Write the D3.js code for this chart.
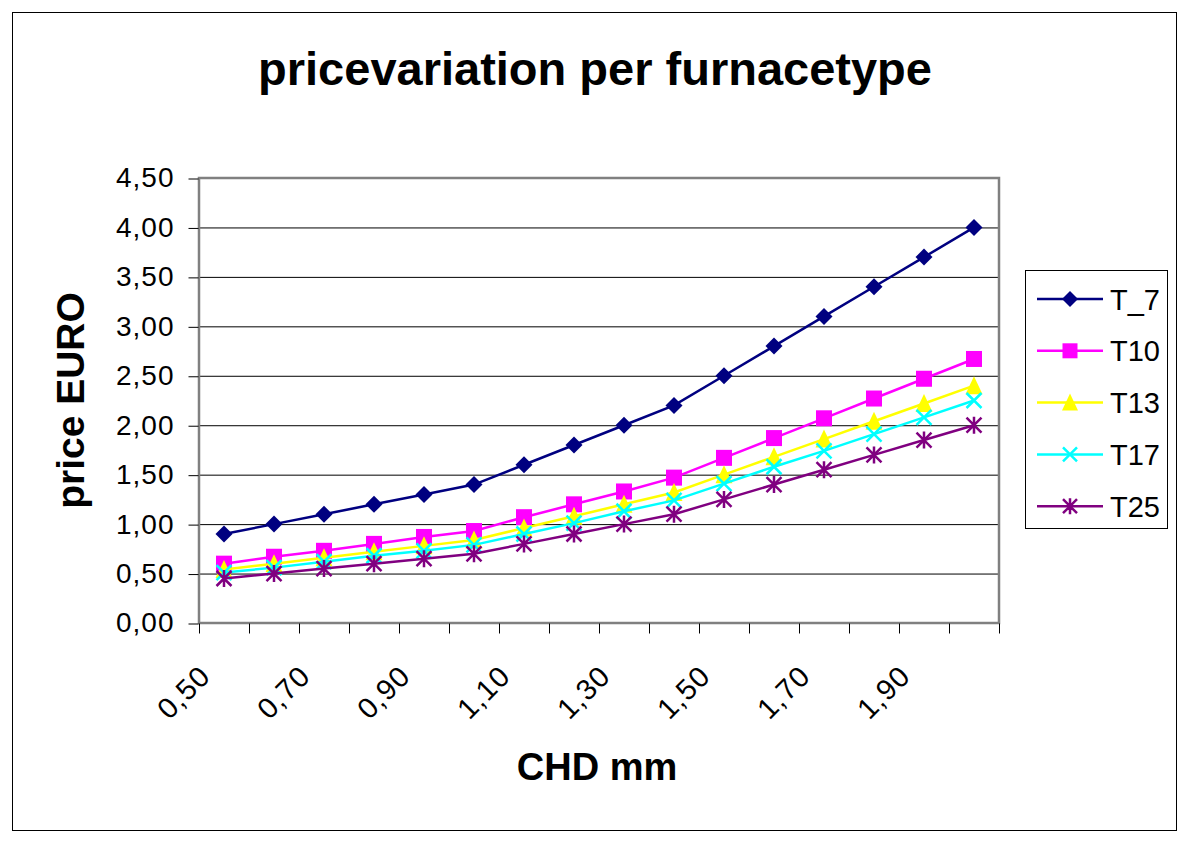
<!DOCTYPE html>
<html>
<head>
<meta charset="utf-8">
<script src="https://cdn.jsdelivr.net/npm/d3@7"></script>
<style>
  body { margin: 0; background: #fff; }
  svg text { font-family: "Liberation Sans", Arial, sans-serif; }
</style>
</head>
<body>
<div id="chart"></div>
<script>
// data
const categories = [0.50, 0.60, 0.70, 0.80, 0.90, 1.00, 1.10, 1.20, 1.30, 1.40, 1.50, 1.60, 1.70, 1.80, 1.90, 2.00];
const t7  = [0.90, 1.00, 1.10, 1.20, 1.30, 1.40, 1.60, 1.80, 2.00, 2.20, 2.50, 2.80, 3.10, 3.40, 3.70, 4.00];
const t10 = [0.60, 0.67, 0.73, 0.80, 0.87, 0.93, 1.07, 1.20, 1.33, 1.47, 1.67, 1.87, 2.07, 2.27, 2.47, 2.67];
const t13 = [0.54, 0.60, 0.66, 0.72, 0.78, 0.84, 0.96, 1.08, 1.20, 1.32, 1.50, 1.68, 1.86, 2.04, 2.22, 2.40];
const t17 = [0.51, 0.56, 0.62, 0.68, 0.73, 0.79, 0.90, 1.01, 1.13, 1.24, 1.41, 1.58, 1.74, 1.91, 2.08, 2.25];
const t25 = [0.45, 0.50, 0.55, 0.60, 0.65, 0.70, 0.80, 0.90, 1.00, 1.10, 1.25, 1.40, 1.55, 1.70, 1.85, 2.00];
const seriesNames = ['T_7', 'T10', 'T13', 'T17', 'T25'];
const yTicks = [0, 0.5, 1, 1.5, 2, 2.5, 3, 3.5, 4, 4.5];
const xTickLabels = [0.50, 0.70, 0.90, 1.10, 1.30, 1.50, 1.70, 1.90];

const series = [
  {name: seriesNames[0], values: t7,  color: '#000080', marker: 'diamond'},
  {name: seriesNames[1], values: t10, color: '#FF00FF', marker: 'square'},
  {name: seriesNames[2], values: t13, color: '#FFFF00', marker: 'triangle'},
  {name: seriesNames[3], values: t17, color: '#00FFFF', marker: 'x'},
  {name: seriesNames[4], values: t25, color: '#800080', marker: 'star'}
];

const W = 1193, H = 844;
const plot = {left: 199, top: 178, right: 999, bottom: 623};
const comma = v => d3.format('.2f')(v).replace('.', ',');

const svg = d3.select('#chart').append('svg')
  .attr('width', W).attr('height', H);

// outer chart frame
svg.append('rect')
  .attr('x', 12.5).attr('y', 12.5)
  .attr('width', 1164).attr('height', 818)
  .attr('fill', '#fff').attr('stroke', '#000').attr('stroke-width', 1);

const x = d3.scaleBand()
  .domain(categories)
  .range([plot.left, plot.right]);
const xEdge = d3.scaleLinear()
  .domain([0, categories.length])
  .range([plot.left, plot.right]);
const y = d3.scaleLinear()
  .domain([0, 4.5])
  .range([plot.bottom, plot.top]);

// gridlines
svg.append('g').attr('class', 'grid')
  .selectAll('line')
  .data(yTicks.slice(1, -1))
  .join('line')
  .attr('x1', plot.left).attr('x2', plot.right)
  .attr('y1', d => y(d) + 0.5).attr('y2', d => y(d) + 0.5)
  .attr('stroke', '#000').attr('stroke-width', 1);

// plot area border
svg.append('rect')
  .attr('x', plot.left).attr('y', plot.top)
  .attr('width', plot.right - plot.left).attr('height', plot.bottom - plot.top)
  .attr('fill', 'none').attr('stroke', '#808080').attr('stroke-width', 2.5);

// y axis
const yAxis = svg.append('g')
  .attr('transform', `translate(${plot.left - 0.5},0)`)
  .call(d3.axisLeft(y).tickValues(yTicks).tickFormat(comma).tickSize(10).tickPadding(14));
yAxis.select('.domain').remove();
yAxis.selectAll('.tick line').attr('stroke', '#000').attr('transform', 'translate(0,0.5)');
yAxis.selectAll('.tick text')
  .attr('font-size', 28).attr('fill', '#000')
  .attr('letter-spacing', 1)
  .style('font-family', '"Liberation Sans", Arial, sans-serif');

// x axis: ticks on category edges
const xAxis = svg.append('g')
  .attr('transform', `translate(0,${plot.bottom + 0.5})`)
  .call(d3.axisBottom(xEdge).tickValues(d3.range(categories.length + 1)).tickFormat('').tickSize(10));
xAxis.select('.domain').remove();
xAxis.selectAll('.tick line').attr('stroke', '#000');

// x labels, rotated
svg.append('g').attr('class', 'xlabels')
  .selectAll('text')
  .data(xTickLabels)
  .join('text')
  .attr('transform', d => `translate(${x(d) + x.bandwidth() / 2 - 12},${plot.bottom + 55}) rotate(-45)`)
  .attr('text-anchor', 'end')
  .attr('font-size', 29)
  .attr('letter-spacing', 1)
  .text(d => comma(d));

// series lines and markers
const line = d3.line()
  .x((d, i) => x(categories[i]) + x.bandwidth() / 2)
  .y(d => y(d));

function drawMarker(g, type, color, s) {
  if (type === 'diamond') {
    g.append('path').attr('d', `M0,${-s}L${s},0L0,${s}L${-s},0Z`).attr('fill', color);
  } else if (type === 'square') {
    g.append('rect').attr('x', -s + 0.5).attr('y', -s + 0.5)
      .attr('width', 2 * s - 1).attr('height', 2 * s - 1).attr('fill', color);
  } else if (type === 'triangle') {
    g.append('path').attr('d', `M0,${-s - 1}L${s},${s}L${-s},${s}Z`).attr('fill', color);
  } else if (type === 'x') {
    const k = s - 1;
    g.append('path').attr('d', `M${-k},${-k}L${k},${k}M${-k},${k}L${k},${-k}`)
      .attr('stroke', color).attr('stroke-width', 2.5).attr('fill', 'none');
  } else if (type === 'star') {
    const k = s - 1;
    g.append('path').attr('d', `M${-k},${-k}L${k},${k}M${-k},${k}L${k},${-k}M0,${-s}L0,${s}`)
      .attr('stroke', color).attr('stroke-width', 2.5).attr('fill', 'none');
  }
}

const dataCont = svg.append('g').attr('class', 'series');
series.forEach(s => {
  const g = dataCont.append('g');
  g.append('path')
    .attr('d', line(s.values))
    .attr('fill', 'none')
    .attr('stroke', s.color)
    .attr('stroke-width', 2.5);
  s.values.forEach((v, i) => {
    const m = g.append('g')
      .attr('transform', `translate(${x(categories[i]) + x.bandwidth() / 2},${y(v)})`);
    drawMarker(m, s.marker, s.color, 8.5);
  });
});

// legend
const legend = svg.append('g').attr('class', 'legend');
legend.append('rect')
  .attr('x', 1025.5).attr('y', 270.5)
  .attr('width', 142).attr('height', 258)
  .attr('fill', '#fff').attr('stroke', '#000').attr('stroke-width', 1);
series.forEach((s, i) => {
  const ly = 299 + i * 51.8;
  const item = legend.append('g');
  item.append('line')
    .attr('x1', 1037).attr('x2', 1103)
    .attr('y1', ly).attr('y2', ly)
    .attr('stroke', s.color).attr('stroke-width', 2.5);
  drawMarker(item.append('g').attr('transform', `translate(1070,${ly})`), s.marker, s.color, 8);
  item.append('text')
    .attr('x', 1110).attr('y', ly + 10.5)
    .attr('font-size', 29)
    .text(s.name);
});

// titles
svg.append('text')
  .attr('x', 595).attr('y', 85)
  .attr('text-anchor', 'middle')
  .attr('font-size', 47).attr('font-weight', 'bold')
  .text('pricevariation per furnacetype');

svg.append('text')
  .attr('x', 597).attr('y', 780)
  .attr('text-anchor', 'middle')
  .attr('font-size', 38).attr('font-weight', 'bold')
  .text('CHD mm');

svg.append('text')
  .attr('transform', `translate(84,${(plot.top + plot.bottom) / 2}) rotate(-90)`)
  .attr('text-anchor', 'middle')
  .attr('font-size', 39).attr('font-weight', 'bold')
  .text('price EURO');
</script>
</body>
</html>
